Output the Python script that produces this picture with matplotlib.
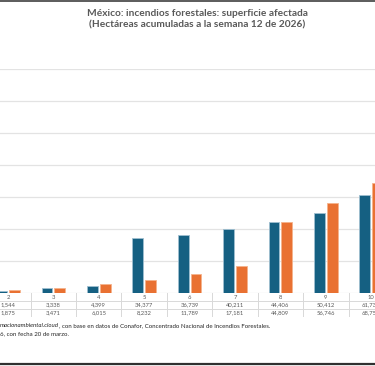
import matplotlib.pyplot as plt
from matplotlib.lines import Line2D

plt.rcParams['font.family'] = ['Lato', 'DejaVu Sans']

# datos (semanas visibles en el recorte)
semanas = [2, 3, 4, 5, 6, 7, 8, 9, 10]
serie_azul = [1544, 3338, 4399, 34377, 36739, 40211, 44406, 50412, 61735]
serie_naranja = [1875, 3471, 6015, 8232, 11789, 17181, 44809, 56746, 68752]

titulo = "México: incendios forestales: superficie afectada\n(Hectáreas acumuladas a la semana 12 de 2026)"
fuente_cursiva = "macionambiental.cloud"
fuente_resto = ", con base en datos de Conafor, Concentrado Nacional de Incendios Forestales."
fuente_linea2 = "6, con fecha 20 de marzo."

AZUL = '#156082'
NARANJA = '#E97132'
GRIS_TXT = '#595959'

W, H = 375, 366
fig = plt.figure(figsize=(W / 100, H / 100), dpi=100)


def fy(px):
    return 1 - px / H


# columna de 45.4 px, semana 2 centrada en x=8 px
col = 45.4
x0 = 2 - 8 / col
x1 = 2 + (W - 8) / col

y_base = 293.3
y_top = 69.3
ax = fig.add_axes([0, fy(y_base), 1, (y_base - y_top) / H])
ax.set_xlim(x0, x1)
ax.set_ylim(0, 140000)
ax.set_yticks(range(0, 140001, 20000))
ax.yaxis.grid(True, color='#e3e3e3', lw=0.9)
ax.set_axisbelow(True)
ax.tick_params(left=False, bottom=False, labelleft=False, labelbottom=False)
for s in ax.spines.values():
    s.set_visible(False)

ancho = 0.236
desp = 0.14
ax.bar([s - desp for s in semanas], serie_azul, ancho, color=AZUL,
       edgecolor='#9fbfd0', lw=0.6)
ax.bar([s + desp for s in semanas], serie_naranja, ancho, color=NARANJA,
       edgecolor='#f5b38c', lw=0.6)

# tabla de datos bajo el eje
y_tab = 317.0
tab = fig.add_axes([0, fy(y_tab), 1, (y_tab - y_base) / H])
tab.set_xlim(x0, x1)
tab.set_ylim(3, 0)
tab.axis('off')
linea = '#d9d9d9'
for r in [1, 2, 3]:
    tab.axhline(r, color=linea, lw=0.7)
for s in semanas:
    tab.axvline(s + 0.5, color=linea, lw=0.7)
    tab.axvline(s - 0.5, color=linea, lw=0.7)
filas = [[str(s) for s in semanas],
         [f"{v:,}" for v in serie_azul],
         [f"{v:,}" for v in serie_naranja]]
for r, fila in enumerate(filas):
    for s, t in zip(semanas, fila):
        tab.text(s, r + 0.5, t, ha='center', va='center', fontsize=4.2,
                 color=GRIS_TXT)

# titulo
fig.text(197 / W, fy(19.5), titulo, ha='center', va='center', fontsize=7.3,
         fontweight='bold', color=GRIS_TXT, linespacing=1.35)

# fuente
t1 = fig.text(0, fy(325.7), fuente_cursiva, ha='left', va='center',
              fontsize=4.4, style='italic', color='#262626')
ax.annotate(fuente_resto, xy=(1, 0.5), xycoords=t1, ha='left', va='center',
            fontsize=4.4, color='#262626', annotation_clip=False)
fig.text(0, fy(334), fuente_linea2, ha='left', va='center', fontsize=4.4,
         color='#262626')

# bordes del recorte
fig.add_artist(Line2D([0, 1], [fy(0.7), fy(0.7)], color='#404040', lw=1.2))
fig.add_artist(Line2D([0, 1], [fy(363.8), fy(363.8)], color='#303030', lw=1.6))
fig.add_artist(Line2D([0, 1], [fy(365.5), fy(365.5)], color='#a0a0a0', lw=0.8))

fig.savefig('out.png', dpi=100)
